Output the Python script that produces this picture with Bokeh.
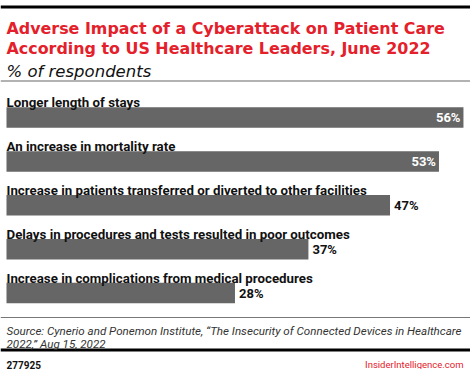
from bokeh.plotting import figure
from bokeh.models import Range1d, Span, Label, ColumnDataSource
from bokeh.embed import file_html
from bokeh.resources import INLINE
from bokeh.core.properties import value

# ---- data ----
categories = [
    "Longer length of stays",
    "An increase in mortality rate",
    "Increase in patients transferred or diverted to other facilities",
    "Delays in procedures and tests resulted in poor outcomes",
    "Increase in complications from medical procedures",
]
values = [56, 53, 47, 37, 28]
value_labels = ["56%", "53%", "47%", "37%", "28%"]
title_lines = [
    "Adverse Impact of a Cyberattack on Patient Care",
    "According to US Healthcare Leaders, June 2022",
]
subtitle = "% of respondents"
source_lines = [
    "Source: Cynerio and Ponemon Institute, \u201cThe Insecurity of Connected Devices in Healthcare",
    "2022,\u201d Aug 15, 2022",
]
chart_id = "277925"
brand = "InsiderIntelligence.com"

# ---- layout ----
W, H = 470, 369
PX = 8.16          # pixels per percentage point
X0 = 6             # pixel position of 0%
RED = "#e4202b"
BAR = "#666666"

def fx(rx):
    return (rx - X0) / PX

def dpx(px):
    return px / PX

p = figure(width=W, height=H, output_backend="svg", toolbar_location=None,
           x_range=Range1d(-X0 / PX, (W - X0) / PX), y_range=Range1d(H, 0),
           x_axis_location=None, y_axis_location=None, min_border=0,
           outline_line_color=None, background_fill_color="white",
           border_fill_color="white")
p.xgrid.visible = False
p.ygrid.visible = False

centers = [117 + 43.9 * i for i in range(len(values))]
label_y = [c - 15 for c in centers]

src = ColumnDataSource(dict(cat=categories, val=values, lab=value_labels,
                            y=centers, ly=label_y))
p.hbar(y="y", right="val", left=0, height=20.5, source=src,
       fill_color=BAR, line_color=None)

p.text(x=fx(6), y="ly", text="cat", source=src,
       text_font=value("Roboto"), text_font_style="bold", text_font_size="13.3px",
       text_color="#111111", text_baseline="alphabetic", text_align="left")

inside = [v >= 50 for v in values]
in_src = ColumnDataSource(dict(x=[v - dpx(3) for v, k in zip(values, inside) if k],
                               y=[c for c, k in zip(centers, inside) if k],
                               t=[l for l, k in zip(value_labels, inside) if k]))
out_src = ColumnDataSource(dict(x=[v + dpx(4) for v, k in zip(values, inside) if not k],
                                y=[c for c, k in zip(centers, inside) if not k],
                                t=[l for l, k in zip(value_labels, inside) if not k]))
p.text(x="x", y="y", text="t", source=in_src, text_font=value("Roboto"),
       text_font_style="bold", text_font_size="13px", text_color="white",
       text_baseline="middle", text_align="right")
p.text(x="x", y="y", text="t", source=out_src, text_font=value("Roboto"),
       text_font_style="bold", text_font_size="13px", text_color="#111111",
       text_baseline="middle", text_align="left")

# rules
p.add_layout(Span(location=6.5, dimension="width", line_color="black", line_width=3))
p.add_layout(Span(location=80.5, dimension="width", line_color="#999999", line_width=1.5))
p.add_layout(Span(location=317, dimension="width", line_color="#777777", line_width=1))
p.add_layout(Span(location=349.5, dimension="width", line_color="black", line_width=3))

# titles
for i, t in enumerate(title_lines):
    p.add_layout(Label(x=fx(6), y=28.3 + 19.7 * i, text=t, text_font="DejaVu Sans",
                       text_font_style="bold", text_font_size="15.9px",
                       text_color=RED, text_baseline="alphabetic"))
p.add_layout(Label(x=fx(6), y=71, text=subtitle, text_font="DejaVu Sans",
                   text_font_style="italic", text_font_size="16.5px",
                   text_color="#111111", text_baseline="alphabetic"))
for i, t in enumerate(source_lines):
    p.add_layout(Label(x=fx(6), y=330 + 13.7 * i, text=t, text_font="Roboto",
                       text_font_style="italic", text_font_size="11.6px",
                       text_color="#333333", text_baseline="alphabetic"))
p.add_layout(Label(x=fx(6), y=364, text=chart_id, text_font="Roboto",
                   text_font_style="bold", text_font_size="10px",
                   text_color="#111111", text_baseline="alphabetic"))
p.add_layout(Label(x=fx(463), y=364, text=brand, text_font="Roboto",
                   text_font_size="9.5px", text_color=RED,
                   text_baseline="alphabetic", text_align="right"))

open("out.html", "w").write(file_html(p, INLINE))
